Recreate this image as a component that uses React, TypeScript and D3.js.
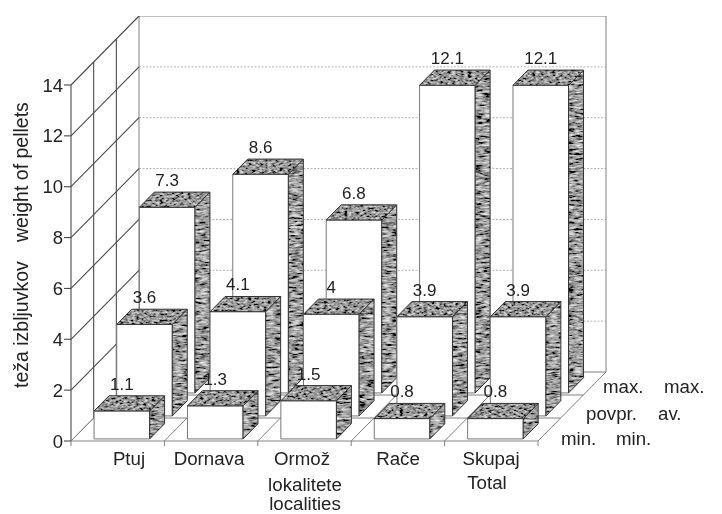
import React from "react";
import * as d3 from "d3";

const categories = ["Ptuj", "Dornava", "Ormož", "Rače", "Skupaj"];
const minValues = [1.1, 1.3, 1.5, 0.8, 0.8];
const avgValues = [3.6, 4.1, 4, 3.9, 3.9];
const maxValues = [7.3, 8.6, 6.8, 12.1, 12.1];
const yTicks = [0, 2, 4, 6, 8, 10, 12, 14];
const rows = [maxValues, avgValues, minValues]; // back to front
const rowDepth = [2, 1, 0];

const FONT = "'Liberation Sans', Arial, sans-serif";
const X0 = 71, X1 = 538, Y0 = 441, Y14 = 85, DX = 68, DY = 69;

const y = d3.scaleLinear().domain([0, 14]).range([Y0, Y14]);
const x = d3.scaleLinear().domain([0, 5]).range([X0, X1]);
const dx = d3.scaleLinear().domain([0, 3]).range([0, DX]);
const dy = d3.scaleLinear().domain([0, 3]).range([0, -DY]);

const P = (c: number, v: number, d: number): [number, number] => [x(c) + dx(d), y(v) + dy(d)];
const pts = (a: [number, number][]) => a.map((p) => p.join(",")).join(" ");
const seg = (a: [number, number], b: [number, number], props: any, key?: any) => (
  <line key={key} x1={a[0]} y1={a[1]} x2={b[0]} y2={b[1]} {...props} />
);

const BAR_START = 0.225, BAR_W = 0.595, D_START = 0.09, D_LEN = 0.66;
const dark = { stroke: "#4a4a4a", strokeWidth: 1.1 };
const mid = { stroke: "#808080", strokeWidth: 1 };
const faint = { stroke: "#b4b4b4", strokeWidth: 1, strokeDasharray: "2 1.5" };

function Bar({ k, v, r }: { k: number; v: number; r: number }) {
  const c0 = k + BAR_START, c1 = c0 + BAR_W;
  const d0 = r + D_START, d1 = d0 + D_LEN;
  const front: [number, number][] = [P(c0, 0, d0), P(c1, 0, d0), P(c1, v, d0), P(c0, v, d0)];
  const top: [number, number][] = [P(c0, v, d0), P(c1, v, d0), P(c1, v, d1), P(c0, v, d1)];
  const side: [number, number][] = [P(c1, 0, d0), P(c1, 0, d1), P(c1, v, d1), P(c1, v, d0)];
  const lab = P(k + BAR_START + BAR_W / 2, v, d1);
  return (
    <g>
      <polygon points={pts(front)} fill="#fff" stroke="#777" strokeWidth={1} />
      <polygon points={pts(side)} fill="#777" filter="url(#grainSide)" />
      <polygon points={pts(side)} fill="none" stroke="#333" strokeWidth={1} />
      <polygon points={pts(top)} fill="#777" filter="url(#grainTop)" />
      <polygon points={pts(top)} fill="none" stroke="#333" strokeWidth={1} />
      <text x={lab[0] - 15} y={lab[1] - 6} textAnchor="middle" fontSize={17} fontFamily={FONT} fill="#222">
        {v}
      </text>
    </g>
  );
}

const T = ({ x, y, children, anchor = "middle", size = 18.7 }: any) => (
  <text x={x} y={y} textAnchor={anchor} fontSize={size} fontFamily={FONT} fill="#222">
    {children}
  </text>
);

export default function App() {
  return (
    <svg width={722} height={514} style={{ position: "absolute", left: 0, top: 0, background: "#fff" }}>
      <defs>
        <filter id="grainSide" x="0" y="0" width="100%" height="100%">
          <feTurbulence type="fractalNoise" baseFrequency="0.12 0.45" numOctaves={3} seed={4} result="n" />
          <feColorMatrix in="n" type="matrix" values="1.5 0 0 0 -0.42  1.5 0 0 0 -0.42  1.5 0 0 0 -0.42  0 0 0 0 1" result="g" />
          <feComposite in="g" in2="SourceAlpha" operator="in" />
        </filter>
        <filter id="grainTop" x="0" y="0" width="100%" height="100%">
          <feTurbulence type="fractalNoise" baseFrequency="0.25 0.5" numOctaves={3} seed={9} result="n" />
          <feColorMatrix in="n" type="matrix" values="1.4 0 0 0 -0.4  1.4 0 0 0 -0.4  1.4 0 0 0 -0.4  0 0 0 0 1" result="g" />
          <feComposite in="g" in2="SourceAlpha" operator="in" />
        </filter>
        <filter id="scan" x="0" y="0" width="100%" height="100%">
          <feGaussianBlur stdDeviation="0.3" />
        </filter>
      </defs>

      <g filter="url(#scan)">
        {/* back wall */}
        {yTicks.map((t) =>
          t === 0 ? null : seg(P(0, t, 3), P(5, t, 3), t === 14 ? mid : faint, "b" + t)
        )}
        {seg(P(0, 0, 3), P(0, 14, 3), mid, "bl")}
        {seg(P(5, 0, 3), P(5, 14, 3), mid, "br")}

        {/* left wall */}
        {yTicks.map((t) => seg(P(0, t, 0), P(0, t, 3), t === 0 ? mid : dark, "l" + t))}
        {[0, 1, 2].map((d) => seg(P(0, 0, d), P(0, 14, d), dark, "v" + d))}
        {yTicks.map((t) => seg([X0 - 7, y(t)], [X0, y(t)], dark, "t" + t))}

        {/* floor */}
        {[0, 1, 2, 3].map((d) => seg(P(0, 0, d), P(5, 0, d), d === 0 ? { stroke: "#888", strokeWidth: 1.2 } : mid, "f" + d))}
        {d3.range(0, 6).map((k) => (
          <g key={"c" + k}>
            {seg(P(k, 0, 0), P(k, 0, 3), mid)}
            {seg(P(k, 0, 0), [x(k), Y0 + 5], mid)}
          </g>
        ))}

        {/* bars, back row first */}
        {rows.map((vals, i) => (
          <g key={"r" + i}>
            {vals.map((v, k) => (
              <Bar key={k} k={k} v={v} r={rowDepth[i]} />
            ))}
          </g>
        ))}

        {/* y tick labels */}
        {yTicks.map((t) => (
          <T key={t} x={X0 - 8} y={y(t) + 6.5} anchor="end" size={18.5}>{t}</T>
        ))}

        {/* y title, two parts */}
        <text transform="translate(28,388) rotate(-90)" fontSize={19.5} fontFamily={FONT} fill="#222">teža izbljuvkov</text>
        <text transform="translate(28,242) rotate(-90)" fontSize={19.5} fontFamily={FONT} fill="#222">weight of pellets</text>

        {/* category labels */}
        <T x={129} y={465}>{categories[0]}</T>
        <T x={209} y={465}>{categories[1]}</T>
        <T x={302} y={465}>{categories[2]}</T>
        <T x={398} y={465}>{categories[3]}</T>
        <T x={491} y={465}>{categories[4]}</T>
        <T x={487} y={489}>Total</T>
        <T x={305} y={491}>lokalitete</T>
        <T x={305} y={510}>localities</T>

        {/* depth labels */}
        <T x={603} y={393} anchor="start">max.</T>
        <T x={664} y={393} anchor="start">max.</T>
        <T x={586} y={420} anchor="start">povpr.</T>
        <T x={658} y={420} anchor="start">av.</T>
        <T x={561} y={445} anchor="start">min.</T>
        <T x={616} y={445} anchor="start">min.</T>
      </g>
    </svg>
  );
}
